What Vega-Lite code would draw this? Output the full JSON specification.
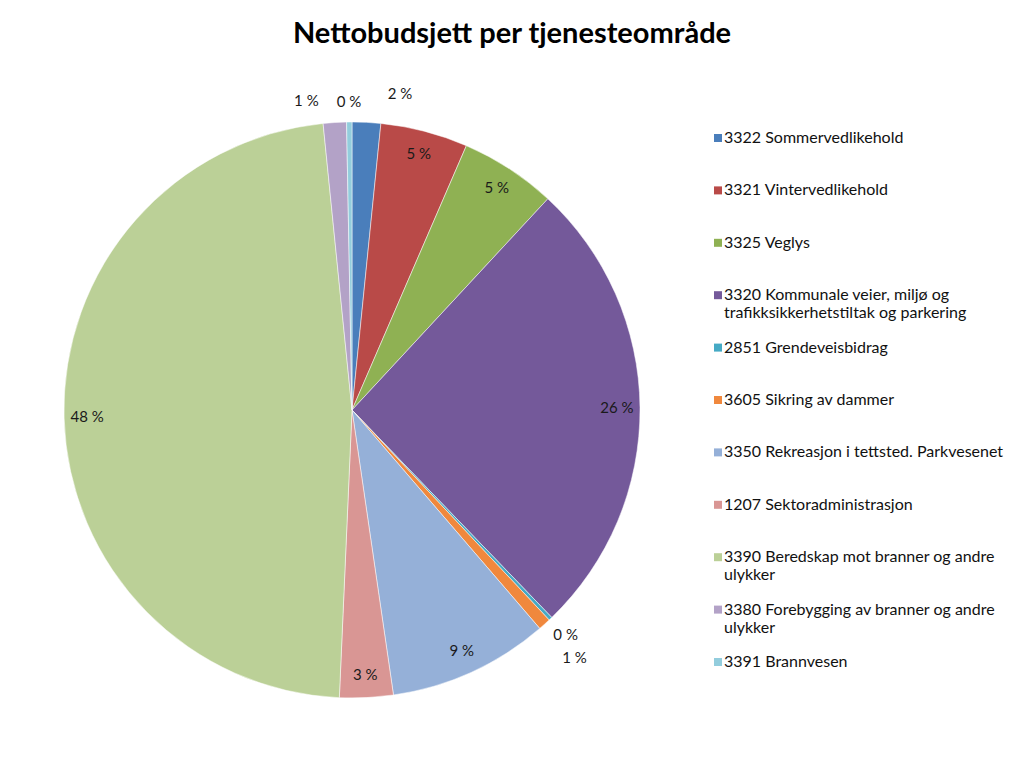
{
  "$schema": "https://vega.github.io/schema/vega-lite/v6.json",
  "width": 704,
  "height": 714,
  "padding": {"top": 20, "left": 0, "right": 0, "bottom": 0},
  "background": "#ffffff",
  "title": {
    "text": "Nettobudsjett per tjenesteområde",
    "font": "Lato",
    "fontSize": 29,
    "fontWeight": "bold",
    "color": "#000000",
    "anchor": "middle",
    "frame": "group",
    "dx": 160,
    "offset": 4
  },
  "data": {
    "values": [
      {"omrade": "3322 Sommervedlikehold", "pct": 1.6, "label": "2 %", "order": 1},
      {"omrade": "3321 Vintervedlikehold", "pct": 4.9, "label": "5 %", "order": 2},
      {"omrade": "3325 Veglys", "pct": 5.4, "label": "5 %", "order": 3},
      {"omrade": "3320 Kommunale veier, miljø og trafikksikkerhetstiltak og parkering", "pct": 25.9, "label": "26 %", "order": 4},
      {"omrade": "2851 Grendeveisbidrag", "pct": 0.2, "label": "0 %", "order": 5},
      {"omrade": "3605 Sikring av dammer", "pct": 0.7, "label": "1 %", "order": 6},
      {"omrade": "3350 Rekreasjon i tettsted. Parkvesenet", "pct": 9.0, "label": "9 %", "order": 7},
      {"omrade": "1207 Sektoradministrasjon", "pct": 3.0, "label": "3 %", "order": 8},
      {"omrade": "3390 Beredskap mot branner og andre ulykker", "pct": 47.7, "label": "48 %", "order": 9},
      {"omrade": "3380 Forebygging av branner og andre ulykker", "pct": 1.3, "label": "1 %", "order": 10},
      {"omrade": "3391 Brannvesen", "pct": 0.3, "label": "0 %", "order": 11}
    ]
  },
  "encoding": {
    "theta": {"field": "pct", "type": "quantitative", "stack": true},
    "order": {"field": "order", "type": "quantitative"}
  },
  "layer": [
    {
      "mark": {"type": "arc", "radius": 288, "stroke": "#ffffff", "strokeWidth": 0.5},
      "encoding": {
        "color": {
          "field": "omrade",
          "type": "nominal",
          "scale": {
            "domain": [
              "3322 Sommervedlikehold",
              "3321 Vintervedlikehold",
              "3325 Veglys",
              "3320 Kommunale veier, miljø og trafikksikkerhetstiltak og parkering",
              "2851 Grendeveisbidrag",
              "3605 Sikring av dammer",
              "3350 Rekreasjon i tettsted. Parkvesenet",
              "1207 Sektoradministrasjon",
              "3390 Beredskap mot branner og andre ulykker",
              "3380 Forebygging av branner og andre ulykker",
              "3391 Brannvesen"
            ],
            "range": ["#4a7ebb", "#b94a48", "#8fb153", "#74599a", "#46aac5", "#f0883d", "#95b0d8", "#d99694", "#bbd097", "#b3a2c7", "#93cddd"]
          },
          "legend": {
            "title": null,
            "orient": "none",
            "legendX": 710,
            "legendY": 77,
            "padding": 0,
            "symbolType": "square",
            "symbolSize": 64,
            "symbolStrokeWidth": 0,
            "labelFont": "Lato",
            "labelFontSize": 16,
            "labelColor": "#111111",
            "labelOffset": -2,
            "labelLimit": 400,
            "labelBaseline": "middle",
            "gridAlign": "all",
            "rowPadding": 18.4,
            "labelExpr": "datum.label == '3320 Kommunale veier, miljø og trafikksikkerhetstiltak og parkering' ? ['3320 Kommunale veier, miljø og', 'trafikksikkerhetstiltak og parkering'] : datum.label == '3390 Beredskap mot branner og andre ulykker' ? ['3390 Beredskap mot branner og andre', 'ulykker'] : datum.label == '3380 Forebygging av branner og andre ulykker' ? ['3380 Forebygging av branner og andre', 'ulykker'] : datum.label"
          }
        }
      }
    },
    {
      "mark": {"type": "text", "radius": 265, "font": "Lato", "fontSize": 15, "fill": "#1a1a1a"},
      "encoding": {
        "text": {"condition": {"test": "datum.pct >= 2.5", "field": "label"}, "value": ""}
      }
    },
    {
      "mark": {"type": "text", "radius": 318, "dx": 32, "dy": 2, "font": "Lato", "fontSize": 15, "fill": "#1a1a1a"},
      "encoding": {
        "text": {"condition": {"test": "datum.order == 1", "field": "label"}, "value": ""}
      }
    },
    {
      "mark": {"type": "text", "radius": 308, "font": "Lato", "fontSize": 15, "fill": "#1a1a1a"},
      "encoding": {
        "text": {"condition": {"test": "datum.order == 11", "field": "label"}, "value": ""}
      }
    },
    {
      "mark": {"type": "text", "radius": 312, "dx": -27, "dy": 2, "font": "Lato", "fontSize": 15, "fill": "#1a1a1a"},
      "encoding": {
        "text": {"condition": {"test": "datum.order == 10", "field": "label"}, "value": ""}
      }
    },
    {
      "mark": {"type": "text", "radius": 310, "font": "Lato", "fontSize": 15, "fill": "#1a1a1a"},
      "encoding": {
        "text": {"condition": {"test": "datum.order == 5", "field": "label"}, "value": ""}
      }
    },
    {
      "mark": {"type": "text", "radius": 333, "font": "Lato", "fontSize": 15, "fill": "#1a1a1a"},
      "encoding": {
        "text": {"condition": {"test": "datum.order == 6", "field": "label"}, "value": ""}
      }
    }
  ],
  "config": {"view": {"stroke": null}}
}
